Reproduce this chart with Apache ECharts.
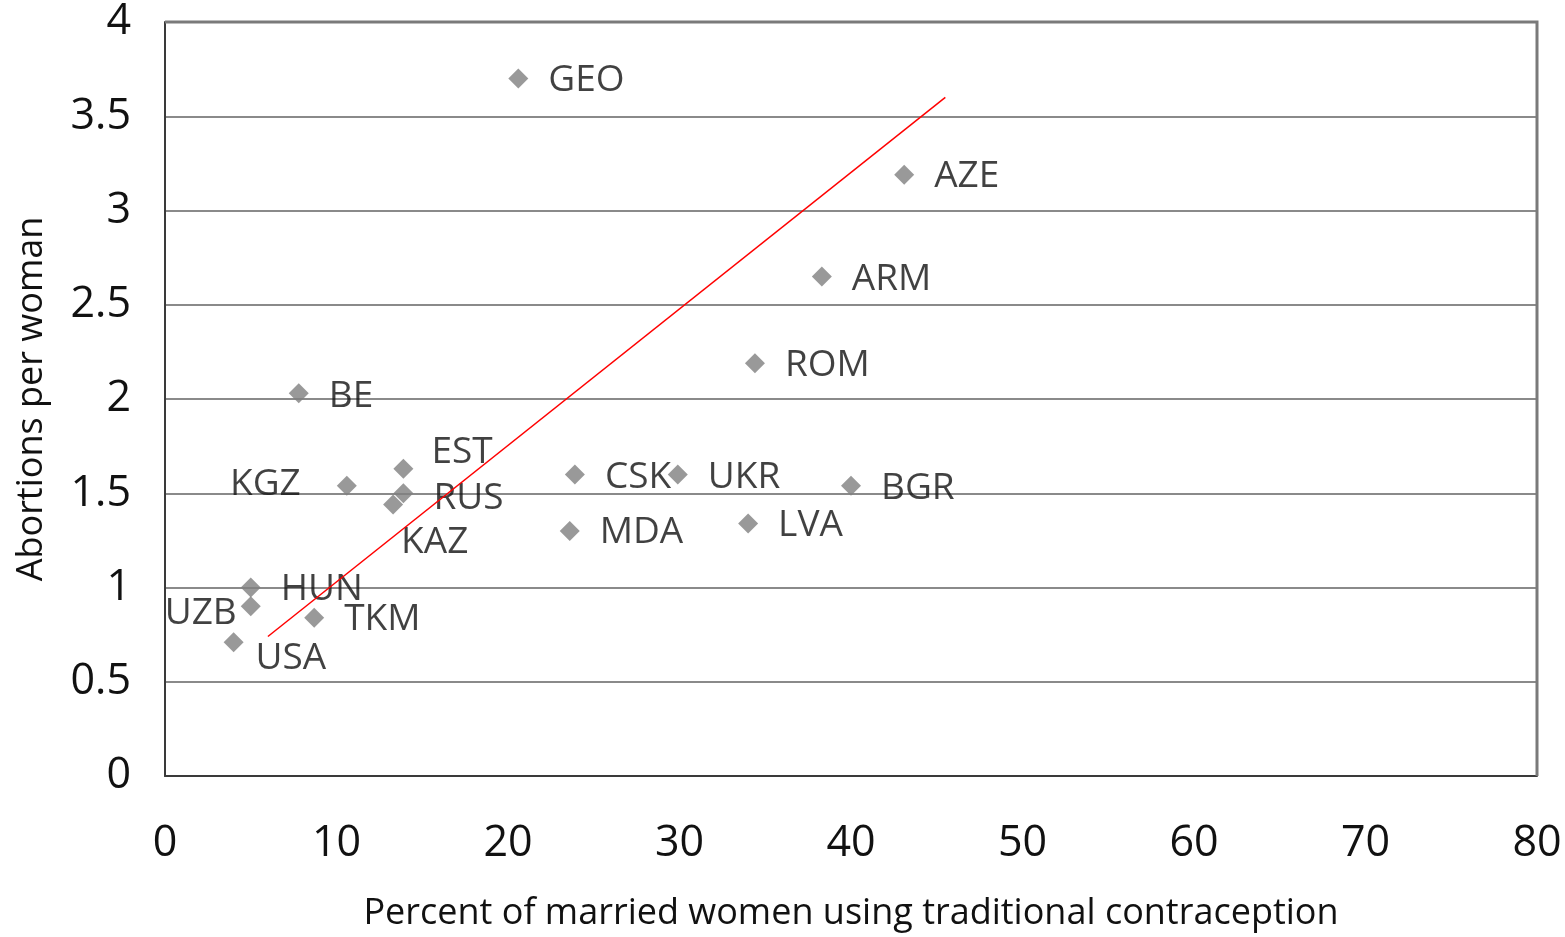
<!DOCTYPE html>
<html>
<head>
<meta charset="utf-8">
<script src="https://cdn.jsdelivr.net/npm/echarts@6/dist/echarts.min.js"></script>
<style>
  html, body { margin: 0; padding: 0; background: #fff; }
  #chart { width: 1565px; height: 937px; }
</style>
</head>
<body>
<div id="chart"></div>
<script>
// country codes and values
const countries = ['GEO', 'AZE', 'ARM', 'ROM', 'BE', 'EST', 'KGZ', 'RUS', 'KAZ', 'CSK', 'UKR', 'BGR', 'MDA', 'LVA', 'HUN', 'UZB', 'TKM', 'USA']
const traditionalPct = [20.6, 43.1, 38.3, 34.4, 7.8, 13.9, 10.6, 13.9, 13.3, 23.9, 29.9, 40.0, 23.6, 34.0, 5.0, 5.0, 8.7, 4.0]
const abortions = [3.70, 3.19, 2.65, 2.19, 2.03, 1.63, 1.54, 1.50, 1.44, 1.60, 1.60, 1.54, 1.30, 1.34, 1.00, 0.90, 0.84, 0.71]
// trend line ends
const trendX = [6.0, 45.5]
const trendY = [0.74, 3.60]

const xTicks = [0, 10, 20, 30, 40, 50, 60, 70, 80]
const yTicks = [0, 0.5, 1, 1.5, 2, 2.5, 3, 3.5, 4]

// where each label sits relative to its diamond
const labelPlace = {
  EST: { position: 'right', offset: [-2, -16] },
  KGZ: { position: 'left', distance: 36, offset: [0, -1] },
  RUS: { position: 'right', offset: [0, 5] },
  KAZ: { position: 'right', offset: [-22, 38] },
  UZB: { position: 'left', distance: 4, offset: [0, 7] },
  USA: { position: 'right', offset: [-8, 16] },
  BGR: { position: 'right', offset: [0, 3] },
  BE: { position: 'right', offset: [0, 3] },
  CSK: { position: 'right', offset: [0, 3] },
  UKR: { position: 'right', offset: [0, 3] },
  ARM: { position: 'right', offset: [0, 3] },
  ROM: { position: 'right', offset: [0, 2] }
}

const font = 'Open Sans'
const chart = echarts.init(document.getElementById('chart'))

const points = countries.map((c, i) => {
  const item = { name: c, value: [traditionalPct[i], abortions[i]] }
  if (labelPlace[c]) item.label = labelPlace[c]
  return item
})

chart.setOption({
  animation: false,
  grid: { left: 165, right: 28, top: 22, bottom: 161 },
  xAxis: {
    type: 'value',
    min: xTicks[0],
    max: xTicks[xTicks.length - 1],
    interval: 10,
    name: 'Percent of married women using traditional contraception',
    nameLocation: 'middle',
    nameGap: 120,
    nameTextStyle: { fontFamily: font, fontSize: 36, color: '#111' },
    axisLine: { show: true, lineStyle: { color: '#3a3a3a', width: 2 } },
    axisTick: { show: false },
    splitLine: { show: false },
    axisLabel: { fontFamily: font, fontSize: 43, color: '#111', margin: 46 }
  },
  yAxis: {
    type: 'value',
    min: yTicks[0],
    max: yTicks[yTicks.length - 1],
    interval: 0.5,
    name: 'Abortions per woman',
    nameLocation: 'middle',
    nameGap: 115,
    nameTextStyle: { fontFamily: font, fontSize: 36, color: '#111' },
    axisLine: { show: true, lineStyle: { color: '#3a3a3a', width: 2 } },
    axisTick: { show: false },
    splitLine: { lineStyle: { color: '#8a8a8a', width: 2 } },
    axisLabel: { fontFamily: font, fontSize: 43, color: '#111', margin: 34, padding: [8, 0, 0, 0] }
  },
  series: [
    {
      type: 'scatter',
      symbol: 'diamond',
      symbolSize: 20,
      itemStyle: { color: '#808080' },
      data: points,
      label: {
        show: true,
        position: 'right',
        distance: 20,
        offset: [0, 2],
        formatter: p => p.name,
        fontFamily: font,
        fontSize: 37,
        color: '#111'
      },
      z: 3
    },
    {
      type: 'line',
      data: trendX.map((x, i) => [x, trendY[i]]),
      symbol: 'none',
      lineStyle: { color: '#ff0000', width: 1.5 },
      z: 4
    }
  ],
  graphic: [
    // lighter frame on top and right of the plot
    { type: 'polyline', shape: { points: [[165, 22], [1537, 22], [1537, 776]] },
      style: { stroke: '#7a7a7a', lineWidth: 3, fill: null }, z: 1 }
  ]
})
</script>
</body>
</html>
